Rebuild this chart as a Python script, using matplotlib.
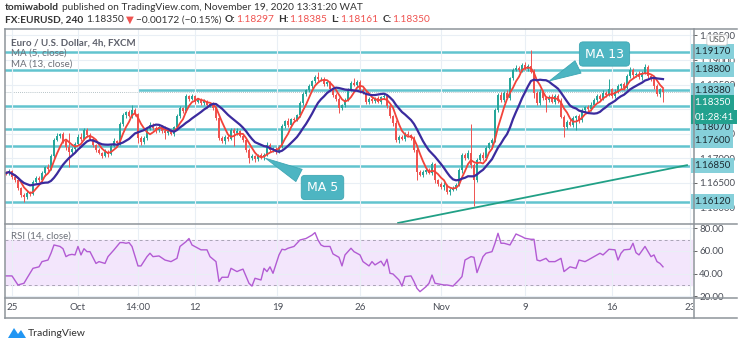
import numpy as np
import pandas as pd
import matplotlib
matplotlib.use("Agg")
import matplotlib.pyplot as plt
from matplotlib.lines import Line2D
from matplotlib.patches import Polygon

plt.rcParams['font.family'] = ['Lato', 'DejaVu Sans']

# ---- data (EUR/USD, 4h bars) ----
first_open = 1.1672
close = [
    1.1670, 1.1674, 1.1662, 1.1655, 1.1640, 1.1626, 1.1621, 1.1630, 1.1627, 1.1652,
    1.1660, 1.1656, 1.1670, 1.1682, 1.1678, 1.1705, 1.1738, 1.1746, 1.1749, 1.1736,
    1.1722, 1.1712, 1.1719, 1.1730, 1.1744, 1.1740, 1.1758, 1.1747, 1.1740, 1.1727,
    1.1716, 1.1711, 1.1705, 1.1713, 1.1709, 1.1726, 1.1735, 1.1731, 1.1770, 1.1788,
    1.1794, 1.1787, 1.1799, 1.1790, 1.1742, 1.1733, 1.1741, 1.1760, 1.1768, 1.1762,
    1.1757, 1.1764, 1.1755, 1.1752, 1.1756, 1.1750, 1.1763, 1.1786, 1.1802, 1.1797,
    1.1826, 1.1821, 1.1826, 1.1815, 1.1819, 1.1812, 1.1816, 1.1808, 1.1810, 1.1802,
    1.1782, 1.1741, 1.1735, 1.1744, 1.1740, 1.1758, 1.1751, 1.1755, 1.1746, 1.1738,
    1.1717, 1.1700, 1.1704, 1.1698, 1.1706, 1.1702, 1.1707, 1.1727, 1.1716, 1.1719,
    1.1714, 1.1724, 1.1766, 1.1776, 1.1768, 1.1780, 1.1777, 1.1788, 1.1812, 1.1830,
    1.1838, 1.1848, 1.1857, 1.1865, 1.1861, 1.1862, 1.1852, 1.1855, 1.1840, 1.1829,
    1.1820, 1.1802, 1.1809, 1.1818, 1.1841, 1.1853, 1.1850, 1.1856, 1.1838, 1.1833,
    1.1814, 1.1820, 1.1817, 1.1822, 1.1815, 1.1824, 1.1826, 1.1807, 1.1786, 1.1772,
    1.1737, 1.1744, 1.1740, 1.1750, 1.1748, 1.1742, 1.1717, 1.1672, 1.1666, 1.1673,
    1.1677, 1.1671, 1.1688, 1.1655, 1.1648, 1.1641, 1.1645, 1.1631, 1.1636, 1.1640,
    1.1646, 1.1676, 1.1707, 1.1701, 1.1711, 1.1686, 1.1656, 1.1697, 1.1707, 1.1701,
    1.1721, 1.1731, 1.1737, 1.1798, 1.1829, 1.1819, 1.1833, 1.1823, 1.1863, 1.1880,
    1.1884, 1.1880, 1.1890, 1.1882, 1.1888, 1.1876, 1.1833, 1.1812, 1.1835, 1.1823,
    1.1819, 1.1825, 1.1815, 1.1827, 1.1817, 1.1784, 1.1764, 1.1774, 1.1768, 1.1782,
    1.1786, 1.1778, 1.1798, 1.1804, 1.1800, 1.1808, 1.1819, 1.1827, 1.1821, 1.1833,
    1.1829, 1.1841, 1.1827, 1.1835, 1.1847, 1.1851, 1.1843, 1.1867, 1.1880, 1.1869,
    1.1872, 1.1865, 1.1874, 1.1886, 1.1867, 1.1861, 1.1847, 1.1831, 1.1841, 1.1835,
]
# wick lengths above / below the candle body, in pips
wick_up = [
    3, 5, 2, 4, 3, 2, 3, 6, 4, 3,   4, 3, 5, 2, 6, 4, 3, 5, 2, 4,
    3, 29, 4, 3, 5, 8, 4, 3, 5, 2,  3, 4, 2, 5, 3, 4, 6, 3, 4, 5,
    3, 4, 9, 3, 2, 4, 5, 3, 6, 4,   3, 5, 4, 10, 3, 4, 2, 5, 4, 3,
    4, 3, 5, 2, 4, 3, 5, 2, 3, 4,   3, 2, 4, 3, 5, 3, 4, 6, 2, 3,
    4, 3, 5, 3, 2, 4, 3, 6, 4, 3,   5, 3, 4, 2, 5, 3, 4, 3, 4, 5,
    3, 4, 3, 5, 11, 3, 4, 2, 3, 4,  3, 5, 2, 4, 3, 4, 10, 3, 4, 5,
    3, 4, 5, 2, 4, 3, 5, 3, 4, 2,   5, 3, 4, 3, 6, 2, 4, 3, 5, 3,
    4, 3, 5, 2, 3, 4, 6, 3, 4, 3,   4, 5, 3, 4, 6, 59, 5, 4, 3, 6,
    4, 3, 5, 4, 3, 6, 4, 5, 3, 4,   5, 4, 3, 6, 4, 32, 5, 4, 6, 3,
    4, 3, 5, 4, 3, 5, 4, 3, 5, 4,   3, 4, 5, 3, 4, 6, 3, 4, 3, 5,
    4, 20, 3, 5, 4, 3, 5, 4, 6, 3,  4, 5, 3, 6, 4, 3, 5, 4, 3, 2,
]
wick_dn = [
    4, 3, 5, 3, 4, 5, 9, 3, 4, 2,   3, 5, 4, 6, 3, 2, 4, 3, 5, 4,
    5, 30, 3, 4, 2, 5, 3, 4, 3, 5,  4, 3, 5, 3, 6, 2, 4, 5, 3, 4,
    5, 3, 4, 4, 10, 5, 3, 4, 2, 4,  5, 3, 4, 13, 4, 3, 5, 2, 3, 4,
    3, 4, 2, 5, 3, 4, 3, 5, 4, 3,   5, 4, 3, 5, 4, 3, 25, 4, 3, 5,
    4, 10, 3, 5, 4, 3, 5, 2, 4, 3,  5, 4, 3, 4, 5, 3, 4, 2, 3, 4,
    4, 3, 5, 3, 4, 3, 5, 4, 3, 5,   4, 10, 3, 5, 2, 4, 3, 4, 5, 3,
    4, 3, 5, 4, 3, 5, 3, 4, 5, 6,   4, 5, 3, 4, 3, 5, 4, 16, 3, 5,
    4, 3, 5, 6, 4, 3, 5, 4, 6, 3,   4, 3, 5, 4, 3, 6, 54, 4, 3, 5,
    4, 3, 5, 4, 3, 5, 4, 3, 5, 4,   3, 4, 5, 3, 4, 3, 10, 4, 3, 5,
    25, 4, 3, 5, 4, 3, 21, 4, 3, 5, 24, 6, 4, 3, 5, 4, 3, 4, 5, 3,
    4, 3, 5, 4, 3, 5, 4, 3, 4, 5,   3, 4, 5, 3, 4, 3, 5, 4, 6, 20,
]

levels = [1.1917, 1.1880, 1.1807, 1.1760, 1.1725, 1.1685, 1.1612]
ray_level = 1.1838
ray_start = 44
last_price = 1.18350
trend_bar = [130.7, 227]
trend_price = [1.15684, 1.1686]

rsi_bar = [0, 2, 4, 6, 7, 9, 11, 12, 14, 15, 16, 18, 19, 20, 21, 22, 23, 24, 25, 26,
           27, 28, 30, 31, 33, 34, 36, 38, 39, 40, 41, 42, 44, 45, 47, 48, 49, 51, 53, 55,
           57, 58, 60, 61, 62, 64, 65, 67, 68, 70, 71, 72, 74, 75, 77, 78, 79, 81, 82, 83,
           85, 86, 87, 88, 89, 91, 92, 93, 94, 96, 98, 100, 102, 103, 104, 105, 106, 108, 109, 111,
           112, 113, 115, 116, 118, 119, 121, 122, 123, 125, 126, 127, 128, 129, 131, 132, 133, 135, 136, 137,
           138, 140, 141, 142, 143, 146, 147, 149, 151, 152, 153, 155, 156, 157, 159, 160, 162, 163, 164, 165,
           166, 168, 170, 172, 173, 175, 176, 177, 178, 180, 181, 183, 185, 186, 188, 190, 191, 193, 194, 196,
           198, 199, 201, 203, 204, 205, 206, 208, 209, 210, 211, 213, 215, 216, 217, 218, 219]
rsi_val = [38, 38, 30, 31.5, 36, 44.7, 46, 50.6, 52, 58, 65.3, 64, 62, 55, 56.5, 57, 56.5, 64, 56.5, 62,
           59.4, 59.4, 49, 50.6, 49, 55, 61, 67.4, 67.4, 66.8, 67.4, 64, 46.8, 46.8, 55, 58, 55, 55.6, 52, 50.6,
           53.5, 64, 68.2, 71, 65.3, 62.4, 61, 61, 55, 50.6, 33, 36.8, 36.8, 44.7, 41.8, 43, 44, 31.5, 29, 35.9,
           34.4, 44.7, 41.8, 46, 40.3, 56.5, 61.5, 61, 62.4, 64, 69.7, 71, 74, 76.2, 69.7, 65.3, 64, 64, 57.4, 54.4,
           46.8, 56.5, 62.4, 59.4, 56.5, 50.6, 46.8, 50.6, 47.7, 51, 46.8, 52.7, 40.3, 39.7, 34.4, 29, 37.4, 38, 33, 27,
           24.1, 28.5, 31.5, 38.8, 31.5, 30, 30, 29, 34.4, 37.4, 52, 55, 54.4, 40.9, 55, 58, 59.4, 66.8, 75.6, 66.8,
           66.8, 65.3, 75, 72.6, 71.2, 70.3, 70.3, 52, 51.2, 53.5, 50.6, 50.6, 53.5, 41.8, 46, 44.7, 52, 50.6, 52, 55,
           58, 56.5, 61.5, 61, 52, 58, 61, 61.5, 66.8, 58.5, 56.5, 64, 55, 56.5, 50.6, 49, 46]

date_bars = [2, 24, 44, 63, 90.5, 118, 145, 173, 202, 228]
date_labels = ['25', 'Oct', '14:00', '12', '19', '26', 'Nov', '9', '16', '23']

# price-scale labels: text, where it is shown
level_tags = [('1.19170', 1.1917), ('1.18800', 1.1880), ('1.18380', 1.1838),
              ('1.18070', 1.1762), ('1.17600', 1.1736), ('1.16850', 1.1685),
              ('1.16120', 1.1612)]
price_tags = [('1.18350', 1.1813), ('01:28:41', 1.1784)]

# ---- derived series ----
c = np.array(close)
o = np.r_[first_open, c[:-1]]
hi = np.maximum(o, c) + np.array(wick_up) * 1e-4
lo = np.minimum(o, c) - np.array(wick_dn) * 1e-4
x = np.arange(len(c))
ma5 = pd.Series(c).rolling(5, min_periods=1).mean()
ma13 = pd.Series(c).rolling(13, min_periods=1).mean()

W, H = 740, 344
UP, DOWN = '#26a69a', '#ef5350'
LEVEL = '#62c4cf'
FRAME = '#8e949a'
TXT = '#4a4e57'

fig = plt.figure(figsize=(W / 100, H / 100), dpi=100)


def box(x0, y0, x1, y1):
    return [x0 / W, 1 - y1 / H, (x1 - x0) / W, (y1 - y0) / H]


ax = fig.add_axes(box(5, 29, 693, 224))
axr = fig.add_axes(box(5, 224, 693, 298), sharex=ax)
axt = fig.add_axes(box(5, 298, 693, 318), sharex=ax)
for a in (ax, axr, axt):
    for s in a.spines.values():
        s.set_visible(False)
    a.set_facecolor('white')

ax.set_xlim(-0.33, 229)
ax.set_ylim(1.15663, 1.19631)

# grid
for a in (ax, axr):
    a.set_xticks(date_bars)
    a.tick_params(axis='x', length=0, labelbottom=False)
    a.grid(True, color='#e9eff5', lw=0.8, zorder=0)
ax.set_yticks(np.arange(1.160, 1.1951, 0.005))
ax.yaxis.tick_right()
# 1.18000 sits completely under the live-price tags, so it is left blank
ax.yaxis.set_major_formatter(plt.FuncFormatter(
    lambda v, p: '' if abs(v - 1.18) < 1e-6 else '%.5f' % v))
ax.tick_params(axis='y', length=3, width=0.7, color='#666', labelsize=7,
               labelcolor=TXT, pad=1.5)

# levels
for lv in levels:
    ax.axhline(lv, color=LEVEL, lw=1.8, zorder=1)
ax.hlines(ray_level, ray_start, 229, color=LEVEL, lw=1.8, zorder=1)
ax.axhline(last_price, color='#9fb0b6', lw=0.6, ls=(0, (1, 1.5)), zorder=1)
ax.plot(trend_bar, trend_price, color='#21a086', lw=1.3, zorder=2)

# candles
col = np.where(c >= o, UP, DOWN)
ax.vlines(x, lo, hi, colors=col, lw=0.7, zorder=3)
body = np.maximum(np.abs(c - o), 0.00003)
ax.bar(x, body, bottom=np.minimum(o, c), width=0.62, color=col, zorder=3)

ax.plot(x, ma5, color='#f2433a', lw=1.3, zorder=4)
ax.plot(x, ma13, color='#3b2b9e', lw=1.6, zorder=4)

# legend texts
ax.text(0.008, 0.928, 'Euro / U.S. Dollar, 4h, FXCM', transform=ax.transAxes,
        fontsize=7, fontweight='bold', color='#5d606b', va='center')
ax.text(0.008, 0.874, 'MA (5, close)', transform=ax.transAxes,
        fontsize=7, color='#6b6f78', va='center')
ax.text(0.008, 0.818, 'MA (13, close)', transform=ax.transAxes,
        fontsize=7, color='#6b6f78', va='center')

# callouts
call = dict(boxstyle='round,pad=0.45,rounding_size=0.3', fc='#4db5c2', ec='#3ea6b3', lw=0.6)
arrow = dict(arrowstyle='wedge,tail_width=1.1,shrink_factor=0.5', fc='#4db5c2', ec='#3ea6b3', lw=0.6)
ax.annotate('MA 13', xy=(180.3, 1.1855), xytext=(199.5, 1.19122), color='white',
            fontsize=9, ha='center', va='center', bbox=call, arrowprops=arrow,
            zorder=6, annotation_clip=False, family='DejaVu Sans')
ax.annotate('MA 5', xy=(85.7, 1.17026), xytext=(105.5, 1.16406), color='white',
            fontsize=9, ha='center', va='center', bbox=call, arrowprops=arrow,
            zorder=6, annotation_clip=False, family='DejaVu Sans')

# price scale tags
ytr = ax.get_yaxis_transform()
for s, y in level_tags:
    ax.text(1.002, y, s, transform=ytr, ha='left', va='center', fontsize=7,
            color='#1c2b31', zorder=7, clip_on=False,
            bbox=dict(boxstyle='square,pad=0.3', fc='#86d0da', ec='none'))
for s, y in price_tags:
    ax.text(1.002, y, s, transform=ytr, ha='left', va='center', fontsize=7,
            color='white', zorder=8, clip_on=False,
            bbox=dict(boxstyle='square,pad=0.3', fc='#22a18e', ec='none'))
fig.text(717 / W, 1 - 40 / H, 'USD', ha='center', va='center', fontsize=6,
         color='#555', zorder=9,
         bbox=dict(boxstyle='round,pad=0.2', fc='white', ec='#c8c8c8', lw=0.6))

# RSI pane
axr.set_ylim(18.5, 83.8)
axr.axhspan(30, 70, color='#f3e6fc', zorder=0)
axr.axhline(70, color='#a9a3b5', lw=0.7, ls=(0, (3, 3)), zorder=1)
axr.axhline(30, color='#a9a3b5', lw=0.7, ls=(0, (3, 3)), zorder=1)
axr.plot(rsi_bar, rsi_val, color='#b25bd3', lw=1.0, zorder=3)
axr.set_yticks([20, 40, 60, 80])
axr.set_yticklabels(['20.00', '40.00', '60.00', '80.00'])
axr.yaxis.tick_right()
axr.tick_params(axis='y', length=3, width=0.7, color='#666', labelsize=7,
                labelcolor=TXT, pad=1.5)
axr.text(0.008, 0.84, 'RSI (14, close)', transform=axr.transAxes, fontsize=7,
         color='#6b6f78', va='center')

# time axis
axt.set_yticks([])
axt.tick_params(axis='x', length=0, labelbottom=False)
xtr = axt.get_xaxis_transform()
for b, lab in zip(date_bars, date_labels):
    axt.text(b, 0.5, lab, transform=xtr, ha='center', va='center', fontsize=7,
             color=TXT, clip_on=True)

# frame
def hline(y, x0=5, x1=737):
    fig.add_artist(Line2D([x0 / W, x1 / W], [1 - y / H] * 2, color=FRAME, lw=1.1))


def vline(xp, y0=29, y1=318):
    fig.add_artist(Line2D([xp / W] * 2, [1 - y0 / H, 1 - y1 / H], color=FRAME, lw=1.1))


for yy in (29, 224, 298, 318):
    hline(yy)
vline(5)
vline(693.5)

# header
r = fig.canvas.get_renderer()


def run_text(y, x0, parts, size=7.3):
    xp = x0
    for s, w, colr, gap in parts:
        t = fig.text(xp / W, 1 - y / H, s, fontsize=size, fontweight=w, color=colr,
                     ha='left', va='center')
        xp = t.get_window_extent(r).x1 + gap


run_text(7, 5, [('tomiwabold', 'bold', '#333', 3),
                ('published on TradingView.com, November 19, 2020 13:31:20 WAT', 'normal', '#333', 0)])
run_text(20, 5, [('FX:EURUSD, 240', 'bold', '#333', 3),
                 ('1.18350', 'normal', '#333', 2),
                 ('▼', 'normal', DOWN, 2),
                 ('\u22120.00172 (\u22120.15%)', 'normal', '#333', 3),
                 ('O:', 'bold', '#333', 1),
                 ('1.18297', 'normal', DOWN, 4),
                 ('H:', 'bold', '#333', 1),
                 ('1.18385', 'normal', DOWN, 4),
                 ('L:', 'bold', '#333', 1),
                 ('1.18161', 'normal', DOWN, 4),
                 ('C:', 'bold', '#333', 1),
                 ('1.18350', 'normal', DOWN, 0)])

# logo
fig.add_artist(Polygon([(8 / W, 1 - 338 / H), (14 / W, 1 - 328 / H), (18 / W, 1 - 334 / H),
                        (21 / W, 1 - 330 / H), (26 / W, 1 - 338 / H)],
                       closed=True, fc='#2196f3', ec='none'))
fig.text(28 / W, 1 - 333 / H, 'TradingView', fontsize=7.5, color='#333', va='center')

fig.savefig('out.png', dpi=100)
